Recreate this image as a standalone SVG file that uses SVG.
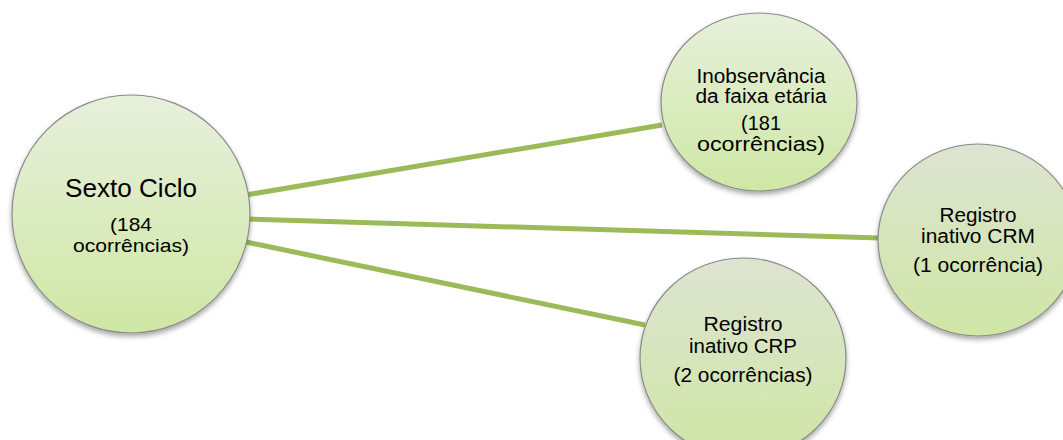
<svg xmlns="http://www.w3.org/2000/svg" width="1063" height="440" viewBox="0 0 1063 440">
<defs>
<linearGradient id="gA" x1="0" y1="0" x2="0" y2="1">
<stop offset="0" stop-color="#e7f0dc"/>
<stop offset="1" stop-color="#cfe7a4"/>
</linearGradient>
<linearGradient id="gB" x1="0" y1="0" x2="0" y2="1">
<stop offset="0" stop-color="#dde4d1"/>
<stop offset="1" stop-color="#cfe6a5"/>
</linearGradient>
<filter id="sh" x="-10%" y="-10%" width="120%" height="125%">
<feDropShadow dx="0" dy="3" stdDeviation="2.5" flood-color="#000" flood-opacity="0.35"/>
</filter>
<style>
.node{stroke:#8a8a8a;stroke-width:1.2;filter:url(#sh)}
.conn{stroke:#9bbb59;stroke-width:5;stroke-linecap:butt}
text{font-family:"Liberation Sans",Arial,sans-serif;fill:#000;text-anchor:middle}
.t1{font-size:26px}
.t2{font-size:18.5px}
.t3{font-size:20px}
</style>
</defs>
<rect width="1063" height="440" fill="#fff"/>
<g id="connectors">
<line class="conn" x1="246" y1="195" x2="662" y2="125"/>
<line class="conn" x1="248" y1="219" x2="880" y2="238"/>
<line class="conn" x1="246" y1="242" x2="645" y2="325"/>
</g>
<g id="node-sexto">
<ellipse class="node" cx="131" cy="214" rx="119" ry="119" fill="url(#gA)"/>
<text class="t1" x="131" y="197" textLength="132" lengthAdjust="spacingAndGlyphs">Sexto Ciclo</text>
<text class="t2" x="131" y="231" textLength="42" lengthAdjust="spacingAndGlyphs">(184</text>
<text class="t2" x="131" y="252" textLength="116" lengthAdjust="spacingAndGlyphs">ocorrências)</text>
</g>
<g id="node-inobs">
<ellipse class="node" cx="759" cy="102" rx="98" ry="89" fill="url(#gA)"/>
<text class="t3" x="761" y="83" textLength="129" lengthAdjust="spacingAndGlyphs">Inobservância</text>
<text class="t3" x="761" y="103" textLength="131" lengthAdjust="spacingAndGlyphs">da faixa etária</text>
<text class="t3" x="761" y="130" textLength="40" lengthAdjust="spacingAndGlyphs">(181</text>
<text class="t3" x="761" y="151" textLength="128" lengthAdjust="spacingAndGlyphs">ocorrências)</text>
</g>
<g id="node-crm">
<ellipse class="node" cx="978" cy="240" rx="100" ry="96" fill="url(#gB)"/>
<text class="t3" x="978" y="222" textLength="77" lengthAdjust="spacingAndGlyphs">Registro</text>
<text class="t3" x="978" y="243" textLength="114" lengthAdjust="spacingAndGlyphs">inativo CRM</text>
<text class="t3" x="978" y="272" textLength="130" lengthAdjust="spacingAndGlyphs">(1 ocorrência)</text>
</g>
<g id="node-crp">
<ellipse class="node" cx="743" cy="358" rx="103" ry="100" fill="url(#gB)"/>
<text class="t3" x="743" y="331" textLength="79" lengthAdjust="spacingAndGlyphs">Registro</text>
<text class="t3" x="743" y="353" textLength="108" lengthAdjust="spacingAndGlyphs">inativo CRP</text>
<text class="t3" x="743" y="382" textLength="139" lengthAdjust="spacingAndGlyphs">(2 ocorrências)</text>
</g>
</svg>
